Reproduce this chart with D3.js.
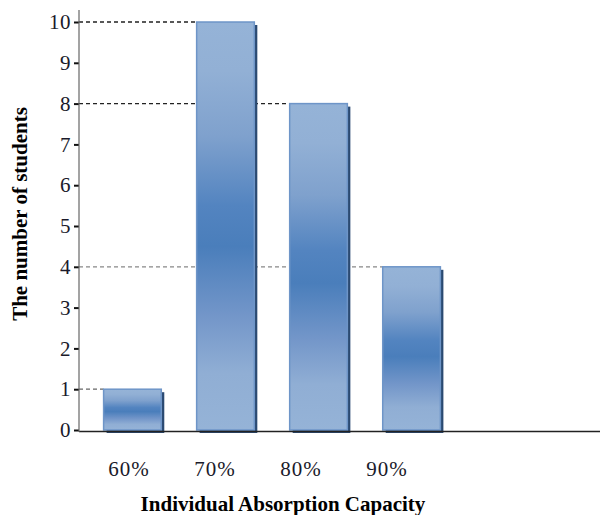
<!DOCTYPE html>
<html>
<head>
<meta charset="utf-8">
<script src="https://cdn.jsdelivr.net/npm/d3@7/dist/d3.min.js"></script>
<style>
  html, body { margin: 0; padding: 0; background: #fff; }
  svg { display: block; }
  svg text { font-family: "Liberation Serif", "Times New Roman", serif; }
</style>
</head>
<body>
<svg id="chart" width="600" height="515"></svg>
<script>
// Absorption capacity groups and the number of students in each
const categories = ["60%", "70%", "80%", "90%"];
const students = [1, 10, 8, 4];
const yTicks = [0, 1, 2, 3, 4, 5, 6, 7, 8, 9, 10];
const xTitle = "Individual Absorption Capacity";
const yTitle = "The number of students";

const svg = d3.select("#chart");

const axisX = 79;      // position of the vertical axis
const baseY = 430;     // position of the horizontal axis (value 0)
const topY = 22;       // value 10

const y = d3.scaleLinear().domain([0, 10]).range([baseY, topY]);

const x = d3.scaleBand()
  .domain(categories)
  .range([85, 459])
  .paddingInner(0.38)
  .paddingOuter(0.2);

// category labels sit slightly left of their bars
const xLabel = d3.scalePoint().domain(categories).range([129, 387]);

// vertical gradient: light at the ends, saturated blue in the middle
const defs = svg.append("defs");
const grad = defs.append("linearGradient")
  .attr("id", "barFill")
  .attr("x1", 0).attr("y1", 0).attr("x2", 0).attr("y2", 1);
[
  [0, "#95b3d7"], [0.12, "#92b0d5"], [0.28, "#7fa1cd"],
  [0.45, "#5384c0"], [0.55, "#4a7ebb"], [0.72, "#7396c9"],
  [0.86, "#90aed4"], [1, "#95b3d7"]
].forEach(([o, c]) => grad.append("stop").attr("offset", o).attr("stop-color", c));

// dashed guides from the axis to the left edge of each bar
const guides = svg.append("g");
const guideColor = { 10: "#222", 8: "#222", 4: "#888", 1: "#666" };
categories.forEach((c, i) => {
  guides.append("line")
    .attr("x1", axisX).attr("x2", x(c))
    .attr("y1", y(students[i])).attr("y2", y(students[i]))
    .attr("stroke", guideColor[students[i]] || "#444")
    .attr("stroke-width", 1.3)
    .attr("stroke-dasharray", "4,3");
});

// bars with a dark drop shadow on the right and bottom
const bars = svg.append("g");
categories.forEach((c, i) => {
  const x0 = x(c), w = x.bandwidth();
  const y0 = y(students[i]), h = baseY - y0;
  bars.append("rect")
    .attr("x", x0 + 3).attr("y", y0 + 3)
    .attr("width", w).attr("height", h)
    .attr("fill", "#2b4a72");
  bars.append("rect")
    .attr("x", x0).attr("y", y0)
    .attr("width", w).attr("height", h)
    .attr("fill", "url(#barFill)")
    .attr("stroke", "#6e95c8")
    .attr("stroke-width", 1.5);
});

// horizontal axis line
svg.append("line")
  .attr("x1", axisX).attr("x2", 600)
  .attr("y1", baseY + 1.5).attr("y2", baseY + 1.5)
  .attr("stroke", "#222").attr("stroke-width", 1.5);

// vertical axis with ticks and labels
const yAxis = d3.axisLeft(y)
  .tickValues(yTicks)
  .tickFormat(d3.format("d"))
  .tickSize(5)
  .tickPadding(3);

const gy = svg.append("g")
  .attr("transform", `translate(${axisX},0)`)
  .call(yAxis)
  .attr("font-family", "Liberation Serif, serif")
  .attr("font-size", 21);
gy.select(".domain").remove();
gy.selectAll(".tick line").attr("stroke", "#111").attr("stroke-width", 2);
gy.selectAll(".tick text")
  .attr("fill", "#1a1a2a")
  .attr("letter-spacing", 0.5);

svg.append("line")
  .attr("x1", axisX).attr("x2", axisX)
  .attr("y1", 10).attr("y2", baseY + 2)
  .attr("stroke", "#666").attr("stroke-width", 1.2);

// category labels under the bars
svg.append("g").selectAll("text")
  .data(categories)
  .join("text")
  .attr("x", d => xLabel(d))
  .attr("y", 476)
  .attr("text-anchor", "middle")
  .attr("font-size", 21)
  .attr("letter-spacing", 1)
  .attr("fill", "#1a1a2a")
  .text(d => d);

// axis titles
svg.append("text")
  .attr("x", 283).attr("y", 511)
  .attr("text-anchor", "middle")
  .attr("font-size", 21)
  .attr("font-weight", "bold")
  .attr("fill", "#000")
  .text(xTitle);

svg.append("text")
  .attr("transform", "translate(27,214) rotate(-90)")
  .attr("text-anchor", "middle")
  .attr("font-size", 21)
  .attr("font-weight", "bold")
  .attr("fill", "#000")
  .text(yTitle);
</script>
</body>
</html>
